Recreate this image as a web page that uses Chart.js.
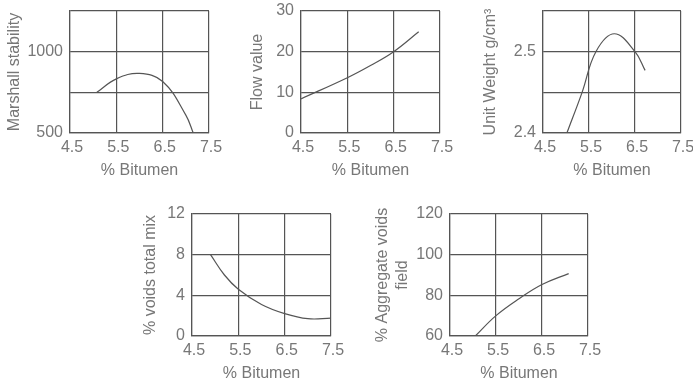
<!DOCTYPE html>
<html>
<head>
    <title>Marshall Test Curves</title>
    <script src="https://cdn.jsdelivr.net/npm/chart.js"></script>
    <style>
        body {
            margin: 0;
            background: #fff;
            width: 693px;
            height: 385px;
            position: relative;
            overflow: hidden;
        }
        canvas {
            position: absolute;
        }
    </style>
</head>
<body>
    <canvas id="stabilityChart" width="224" height="181" style="left:0px;top:0px"></canvas>
    <canvas id="flowChart" width="224" height="181" style="left:231px;top:0px"></canvas>
    <canvas id="weightChart" width="231" height="181" style="left:462px;top:0px"></canvas>
    <canvas id="voidsChart" width="216" height="184" style="left:130px;top:200px"></canvas>
    <canvas id="vmaChart" width="243" height="184" style="left:360px;top:200px"></canvas>

    <script>
        // x axis shared by all five curves
        const bitumenTicks = [4.5, 5.5, 6.5, 7.5];
        const bitumenLabels = ['4.5', '5.5', '6.5', '7.5'];

        // Marshall stability
        const stabilityX = [5.08, 5.5, 6.0, 6.5, 7.0, 7.16];
        const stabilityY = [750, 833, 866, 817, 610, 500];
        const stabilityTicks = [500, 750, 1000, 1250];
        const stabilityLabels = ['500', '', '1000', ''];

        // Flow value
        const flowX = [4.5, 5.5, 6.0, 6.5, 7.04];
        const flowY = [8.4, 13.6, 16.6, 20, 24.9];
        const flowTicks = [0, 10, 20, 30];
        const flowLabels = ['0', '10', '20', '30'];

        // Unit weight
        const weightX = [5.02, 5.35, 5.65, 6.05, 6.5, 6.72];
        const weightY = [2.4, 2.45, 2.5, 2.522, 2.5, 2.477];
        const weightTicks = [2.4, 2.45, 2.5, 2.55];
        const weightLabels = ['2.4', '', '2.5', ''];

        // % voids total mix
        const voidsX = [4.9, 5.2, 5.5, 6.0, 6.5, 7.0, 7.5];
        const voidsY = [8, 6.0, 4.6, 3.1, 2.2, 1.7, 1.75];
        const voidsTicks = [0, 4, 8, 12];
        const voidsLabels = ['0', '4', '8', '12'];

        // % aggregate voids field
        const vmaX = [5.05, 5.5, 6.0, 6.5, 7.08];
        const vmaY = [60, 70, 78.3, 85.3, 90.7];
        const vmaTicks = [60, 80, 100, 120];
        const vmaLabels = ['60', '80', '100', '120'];

        const textColor = '#777';
        const lineColor = '#555';
        const font = { family: '"Liberation Sans", Arial, sans-serif', size: 16 };

        function makeChart(id, xs, ys, yTicks, yLabels, yTitle, box) {
            const ctx = document.getElementById(id).getContext('2d');
            return new Chart(ctx, {
                type: 'line',
                data: {
                    datasets: [{
                        data: xs.map((x, i) => ({ x: x, y: ys[i] })),
                        borderColor: lineColor,
                        borderWidth: 1.2,
                        pointRadius: 0,
                        fill: false,
                        tension: 0.4
                    }]
                },
                options: {
                    responsive: false,
                    animation: false,
                    events: [],
                    layout: {
                        padding: { top: box.top, right: box.right, left: 0, bottom: 0 }
                    },
                    plugins: {
                        legend: { display: false },
                        tooltip: { enabled: false }
                    },
                    scales: {
                        x: {
                            type: 'linear',
                            min: bitumenTicks[0],
                            max: bitumenTicks[bitumenTicks.length - 1],
                            afterBuildTicks: s => { s.ticks = bitumenTicks.map(v => ({ value: v })); },
                            afterFit: s => {
                                s.height = 48;
                                s.paddingLeft = 0; s.paddingRight = 0;
                                s.paddingTop = 0; s.paddingBottom = 0;
                            },
                            grid: { color: lineColor, lineWidth: 1.2, drawTicks: false },
                            border: { color: lineColor, width: 1.2 },
                            ticks: {
                                color: textColor,
                                font: font,
                                padding: 5,
                                labelOffset: 2,
                                maxRotation: 0,
                                autoSkip: false,
                                callback: (v, i) => bitumenLabels[i]
                            },
                            title: {
                                display: true,
                                text: '% Bitumen',
                                color: textColor,
                                font: font,
                                padding: { top: 0, bottom: 1 }
                            }
                        },
                        y: {
                            type: 'linear',
                            min: yTicks[0],
                            max: yTicks[yTicks.length - 1],
                            afterBuildTicks: s => { s.ticks = yTicks.map(v => ({ value: v })); },
                            afterFit: s => {
                                s.width = box.axis;
                                s.paddingLeft = 0; s.paddingRight = 0;
                                s.paddingTop = 0; s.paddingBottom = 0;
                            },
                            grid: { color: lineColor, lineWidth: 1.2, drawTicks: false },
                            border: { color: lineColor, width: 1.2 },
                            ticks: {
                                color: textColor,
                                font: font,
                                padding: 7,
                                autoSkip: false,
                                callback: (v, i) => yLabels[i]
                            },
                            title: {
                                display: true,
                                text: yTitle,
                                color: textColor,
                                font: font,
                                padding: { top: box.title, bottom: 0 }
                            }
                        }
                    }
                }
            });
        }

        makeChart('stabilityChart', stabilityX, stabilityY, stabilityTicks, stabilityLabels,
            'Marshall stability', { top: 11, right: 15, axis: 70, title: 5 });
        makeChart('flowChart', flowX, flowY, flowTicks, flowLabels,
            'Flow value', { top: 11, right: 15, axis: 70, title: 17.4 });
        makeChart('weightChart', weightX, weightY, weightTicks, weightLabels,
            'Unit Weight g/cm³', { top: 11, right: 12, axis: 81, title: 19.4 });
        makeChart('voidsChart', voidsX, voidsY, voidsTicks, voidsLabels,
            '% voids total mix', { top: 14, right: 15, axis: 62, title: 11.4 });
        makeChart('vmaChart', vmaX, vmaY, vmaTicks, vmaLabels,
            ['% Aggregate voids', 'field'], { top: 14, right: 15, axis: 90, title: 13.4 });
    </script>
</body>
</html>
